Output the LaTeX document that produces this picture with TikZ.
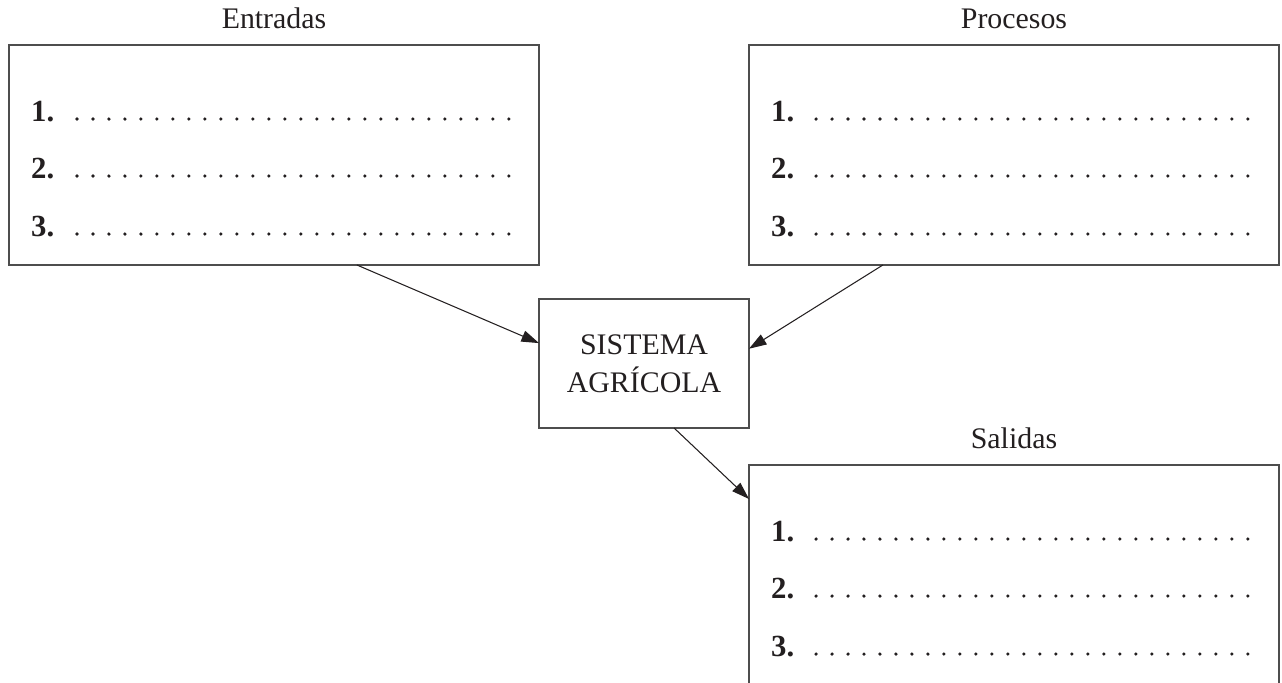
\documentclass[tikz,border=0pt]{standalone}
\usepackage{fontspec}
\setmainfont{Liberation Serif}
\usepackage{tikz}
\usetikzlibrary{arrows.meta}

\definecolor{ink}{HTML}{231F20}
\definecolor{frame}{HTML}{4D4D4D}

\begin{document}
\begin{tikzpicture}[
  x=0.02cm, y=-0.02cm,
  font=\fontsize{17}{21.6}\selectfont, text=ink,
  % List box (Entradas / Procesos / Salidas)
  listbox/.style={rectangle, draw=frame, line width=0.8pt,
                  inner sep=0pt, outer sep=0pt,
                  minimum width=10.6cm, minimum height=4.4cm},
  % Centre system box
  sysbox/.style={rectangle, draw=frame, line width=0.8pt,
                 inner sep=0pt, outer sep=0pt, align=center,
                 minimum width=4.2cm, minimum height=2.58cm},
  % Heading over each list box
  title/.style={anchor=base},
  % Item number and its dotted blank
  num/.style={anchor=base west, font=\fontsize{17.5}{21.6}\selectfont\bfseries},
  blank/.style={draw=ink, line width=2pt, line cap=round,
                dash pattern=on 0pt off 9.105pt},
  arr/.style={-{Triangle[length=10pt, width=6.5pt]}, draw=ink, line width=0.6pt}
]
\useasboundingbox (0,0) rectangle (1282,683);

% ── Boxes ─────────────────────────────────────────────────────────────────
\node[listbox] (entradas) at (274,155)   {};
\node[listbox] (procesos) at (1014,155)  {};
\node[sysbox]  (sistema)  at (644,363.5) {SISTEMA\\AGRÍCOLA};
\node[listbox] (salidas)  at (1014,575)  {};   % bottom edge falls off the page

\node[title] (entlab) at (274,28)   {Entradas};
\node[title] (prolab) at (1014,28)  {Procesos};
\node[title] (sallab) at (1014,448) {Salidas};

% ── Entradas items ────────────────────────────────────────────────────────
\node[num] (ent1) at (25,121) {1.};
\node[num] (ent2) at (25,178) {2.};
\node[num] (ent3) at (25,236) {3.};
\draw[blank] (77,119) -- (511,119);
\draw[blank] (77,176) -- (511,176);
\draw[blank] (77,234) -- (511,234);

% ── Procesos items ────────────────────────────────────────────────────────
\node[num] (pro1) at (765,121) {1.};
\node[num] (pro2) at (765,178) {2.};
\node[num] (pro3) at (765,236) {3.};
\draw[blank] (816,119) -- (1250,119);
\draw[blank] (816,176) -- (1250,176);
\draw[blank] (816,234) -- (1250,234);

% ── Salidas items ─────────────────────────────────────────────────────────
\node[num] (sal1) at (765,541) {1.};
\node[num] (sal2) at (765,598) {2.};
\node[num] (sal3) at (765,656) {3.};
\draw[blank] (816,539) -- (1250,539);
\draw[blank] (816,596) -- (1250,596);
\draw[blank] (816,654) -- (1250,654);

% ── Arrows into and out of the system ─────────────────────────────────────
\draw[arr] (entradas.-53)  -- (sistema.169.5);
\draw[arr] (procesos.220.2) -- (sistema.8.9);
\draw[arr] (sistema.-65.8) -- (salidas.164.1);

\end{tikzpicture}
\end{document}
